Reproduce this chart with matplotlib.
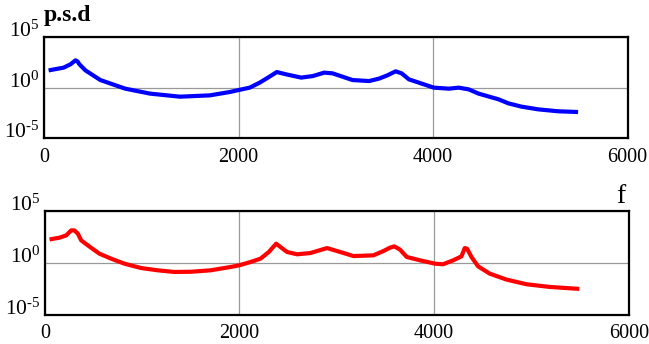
import matplotlib
matplotlib.use('Agg')
import matplotlib.pyplot as plt
import numpy as np

plt.rcParams['font.family'] = 'Liberation Serif'
plt.rcParams['mathtext.fontset'] = 'custom'
plt.rcParams['mathtext.rm'] = 'Liberation Serif'
plt.rcParams['mathtext.it'] = 'Liberation Serif:italic'

# spectrum 1 (blue) - frequency and log10 p.s.d.
freq_top = [46, 200, 271, 322, 343, 363, 425, 578, 834, 1090, 1397, 1704, 1909, 1998,
            2114, 2216, 2285, 2393, 2489, 2643, 2762, 2881, 2966, 3171, 3342, 3444,
            3529, 3615, 3676, 3751, 3854, 4007, 4161, 4263, 4366, 4468, 4673, 4775,
            4908, 5082, 5287, 5491]
logp_top = [1.69, 1.96, 2.29, 2.68, 2.58, 2.29, 1.69, 0.74, -0.11, -0.60, -0.90, -0.77,
            -0.44, -0.25, -0.01, 0.48, 0.88, 1.53, 1.30, 0.98, 1.13, 1.47, 1.40, 0.74,
            0.64, 0.88, 1.20, 1.60, 1.40, 0.81, 0.48, -0.01, -0.11, -0.01, -0.18, -0.60,
            -1.16, -1.56, -1.88, -2.15, -2.34, -2.41]

# spectrum 2 (red)
freq_bot = [49, 151, 220, 271, 305, 340, 374, 442, 561, 681, 817, 988, 1159, 1329, 1500,
            1704, 1909, 1998, 2114, 2216, 2301, 2377, 2421, 2489, 2592, 2728, 2899, 3035,
            3171, 3376, 3478, 3546, 3590, 3649, 3718, 3854, 4007, 4092, 4195, 4280, 4314,
            4338, 4383, 4451, 4570, 4741, 4946, 5184, 5491]
logp_bot = [2.25, 2.42, 2.64, 3.12, 3.12, 2.80, 2.16, 1.68, 0.88, 0.40, -0.08, -0.50,
            -0.72, -0.88, -0.86, -0.72, -0.40, -0.24, 0.08, 0.40, 1.04, 1.84, 1.52, 1.04,
            0.82, 0.94, 1.42, 1.04, 0.65, 0.72, 1.13, 1.46, 1.58, 1.27, 0.56, 0.24, -0.08,
            -0.14, 0.24, 0.62, 1.42, 1.36, 0.56, -0.34, -1.04, -1.61, -2.06, -2.32, -2.51]

xticks = [0, 2000, 4000, 6000]
yticks = [1e-5, 1e0, 1e5]
ylabels = [r'$10^{\text{-}5}$', '$10^{0}$', '$10^{5}$']

fig = plt.figure(figsize=(6.49, 3.44), dpi=100)
ax1 = fig.add_axes([0.068, 0.598, 0.899, 0.295])
ax2 = fig.add_axes([0.069, 0.085, 0.900, 0.302])


def style(ax):
    ax.set_yscale('log')
    ax.set_xlim(0, 6000)
    ax.set_ylim(1e-5, 1e5)
    ax.set_xticks(xticks)
    ax.set_xticklabels([str(t) for t in xticks], fontsize=14.5)
    ax.set_yticks(yticks)
    ax.set_yticklabels(ylabels, fontsize=15.5)
    ax.minorticks_off()
    ax.tick_params(length=0, pad=7)
    ax.tick_params(axis='y', pad=3)
    for lab in ax.get_yticklabels():
        lab.set_verticalalignment('baseline')
    ax.grid(True, color='#999999', linewidth=0.9)
    for s in ax.spines.values():
        s.set_linewidth(1.6)
        s.set_color('black')
        s.set_zorder(5)


style(ax1)
style(ax2)

ax1.plot(freq_top, 10.0 ** np.array(logp_top), color='#0000ff', linewidth=3, solid_capstyle='butt')
ax2.plot(freq_bot, 10.0 ** np.array(logp_bot), color='#ff0000', linewidth=3, solid_capstyle='butt')

fig.text(0.068, 0.955, 'p.s.d', fontsize=17, fontweight='bold', va='center', ha='left')
fig.text(0.957, 0.43, 'f', fontsize=20, va='center', ha='center')

fig.savefig('out.png', dpi=100)
